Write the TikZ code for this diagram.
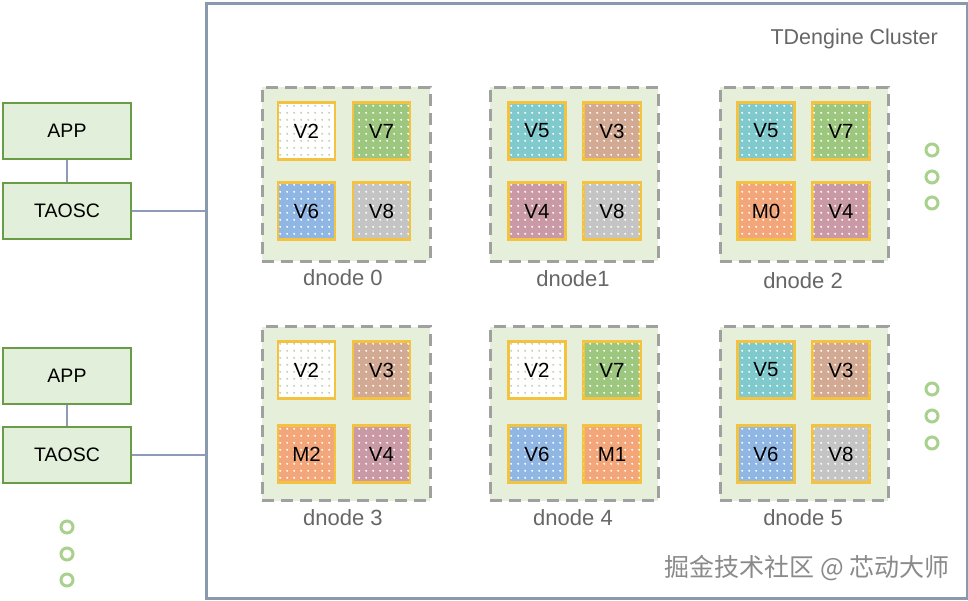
\documentclass[tikz,border=0pt]{standalone}
\usepackage{fontspec}
\setmainfont{Liberation Sans}
\newfontfamily\cjk{Noto Sans CJK SC}
\usetikzlibrary{patterns}
\pgfdeclarepatternformonly{mydots}{\pgfqpoint{0pt}{0pt}}{\pgfqpoint{6.6pt}{6.6pt}}{\pgfqpoint{6.6pt}{6.6pt}}{%
  \pgfpathcircle{\pgfqpoint{3.3pt}{3.3pt}}{1.1pt}\pgfusepath{fill}}
\definecolor{appfill}{HTML}{E2EFDA}
\definecolor{appborder}{HTML}{6A9C45}
\definecolor{linkcol}{HTML}{8C9CB8}
\definecolor{clusterborder}{HTML}{8A99AD}
\definecolor{dnfill}{HTML}{E6EFD9}
\definecolor{dnborder}{HTML}{A0A0A0}
\definecolor{sqborder}{HTML}{F3C23E}
\definecolor{cV7}{HTML}{9DC77F}
\definecolor{cV6}{HTML}{90B6E4}
\definecolor{cV8}{HTML}{C4C4C4}
\definecolor{cV5}{HTML}{80CACE}
\definecolor{cV3}{HTML}{D2AA94}
\definecolor{cV4}{HTML}{C99AA6}
\definecolor{cM}{HTML}{F4A67B}
\definecolor{dotV2}{HTML}{C3CFB5}
\definecolor{ringcol}{HTML}{A9D18E}
\definecolor{labelgray}{HTML}{666666}
\definecolor{wmgray}{HTML}{8A8A8A}
\begin{document}
\begin{tikzpicture}[x=1pt,y=-1pt,
  appbox/.style={draw=appborder, fill=appfill, line width=2pt, minimum width=128pt, minimum height=56pt, inner sep=0pt, font=\fontsize{19.5}{21}\selectfont},
  link/.style={draw=linkcol, line width=2pt},
  dnbox/.style={draw=dnborder, fill=dnfill, line width=3pt, dash pattern=on 12pt off 7pt, minimum width=168pt, minimum height=174pt, inner sep=0pt},
  vsq/.style={draw=sqborder, line width=2.2pt, minimum size=57pt, inner sep=0pt, font=\fontsize{20.5}{22}\selectfont,
     postaction={pattern=mydots, pattern color=white}},
  vsqw/.style={draw=sqborder, line width=2.2pt, minimum size=57pt, inner sep=0pt, font=\fontsize{20.5}{22}\selectfont, fill=white,
     postaction={pattern=mydots, pattern color=dotV2}},
  dnlabel/.style={text=labelgray, font=\fontsize{22}{24}\selectfont, inner sep=0pt},
  ring/.style={draw=ringcol, line width=3pt, circle, minimum size=12pt, inner sep=0pt}
]
\useasboundingbox (0,0) rectangle (968,600);
\fill[white] (0,0) rectangle (968,600);

% cluster
\node[draw=clusterborder, line width=3pt, minimum width=761pt, minimum height=595pt, inner sep=0pt, anchor=north west] (cluster) at (204.5,2) {};
\node[text=labelgray, font=\fontsize{21.5}{23}\selectfont, anchor=east, inner sep=0pt] (title) at (938,39) {TDengine Cluster};

% clients
\node[appbox] (app1) at (67,131) {APP};
\node[appbox] (tsc1) at (67,211) {TAOSC};
\node[appbox] (app2) at (67,376) {APP};
\node[appbox] (tsc2) at (67,455) {TAOSC};
\draw[link] (app1) -- (tsc1);
\draw[link] (app2) -- (tsc2);
\draw[link] (tsc1.east) -- (tsc1.east -| cluster.west);
\draw[link] (tsc2.east) -- (tsc2.east -| cluster.west);

% dnodes
\node[dnbox] (d0) at (346,174) {};
\node[dnbox] (d1) at (574,174) {};
\node[dnbox] (d2) at (804,174) {};
\node[dnbox] (d3) at (346,413.5) {};
\node[dnbox] (d4) at (574,413.5) {};
\node[dnbox] (d5) at (804,413.5) {};

\node[dnlabel] (l0) at (343,278) {dnode 0};
\node[dnlabel] (l1) at (573,279) {dnode1};
\node[dnlabel] (l2) at (803,281) {dnode 2};
\node[dnlabel] (l3) at (343,518) {dnode 3};
\node[dnlabel] (l4) at (573,518) {dnode 4};
\node[dnlabel] (l5) at (803,518) {dnode 5};

% dnode 0
\node[vsqw] (a1) at (306.5,131) {V2};
\node[vsq, fill=cV7] (a2) at (381.5,131) {V7};
\node[vsq, fill=cV6] (a3) at (306.5,211) {V6};
\node[vsq, fill=cV8] (a4) at (381.5,211) {V8};
% dnode 1
\node[vsq, fill=cV5] (b1) at (537,131) {V5};
\node[vsq, fill=cV3] (b2) at (612,131) {V3};
\node[vsq, fill=cV4] (b3) at (537,211) {V4};
\node[vsq, fill=cV8] (b4) at (612,211) {V8};
% dnode 2
\node[vsq, fill=cV5] (c1) at (766,131) {V5};
\node[vsq, fill=cV7] (c2) at (841,131) {V7};
\node[vsq, fill=cM] (c3) at (766,211) {M0};
\node[vsq, fill=cV4] (c4) at (841,211) {V4};
% dnode 3
\node[vsqw] (e1) at (306.5,370) {V2};
\node[vsq, fill=cV3] (e2) at (381.5,370) {V3};
\node[vsq, fill=cM] (e3) at (306.5,454) {M2};
\node[vsq, fill=cV4] (e4) at (381.5,454) {V4};
% dnode 4
\node[vsqw] (f1) at (537,370) {V2};
\node[vsq, fill=cV7] (f2) at (612,370) {V7};
\node[vsq, fill=cV6] (f3) at (537,454) {V6};
\node[vsq, fill=cM] (f4) at (612,454) {M1};
% dnode 5
\node[vsq, fill=cV5] (g1) at (766,370) {V5};
\node[vsq, fill=cV3] (g2) at (841,370) {V3};
\node[vsq, fill=cV6] (g3) at (766,454) {V6};
\node[vsq, fill=cV8] (g4) at (841,454) {V8};

% ellipsis rings
\node[ring] (r1) at (932,150) {};
\node[ring] (r2) at (932,177) {};
\node[ring] (r3) at (932,203) {};
\node[ring] (r4) at (932,389) {};
\node[ring] (r5) at (932,416) {};
\node[ring] (r6) at (932,443) {};
\node[ring] (r7) at (67,527) {};
\node[ring] (r8) at (67,554) {};
\node[ring] (r9) at (67,580) {};

% watermark
\node[text=wmgray, font=\cjk\fontsize{25}{27}\selectfont, anchor=east, inner sep=0pt] (wm) at (950,568) {掘金技术社区 @ 芯动大师};
\end{tikzpicture}
\end{document}
